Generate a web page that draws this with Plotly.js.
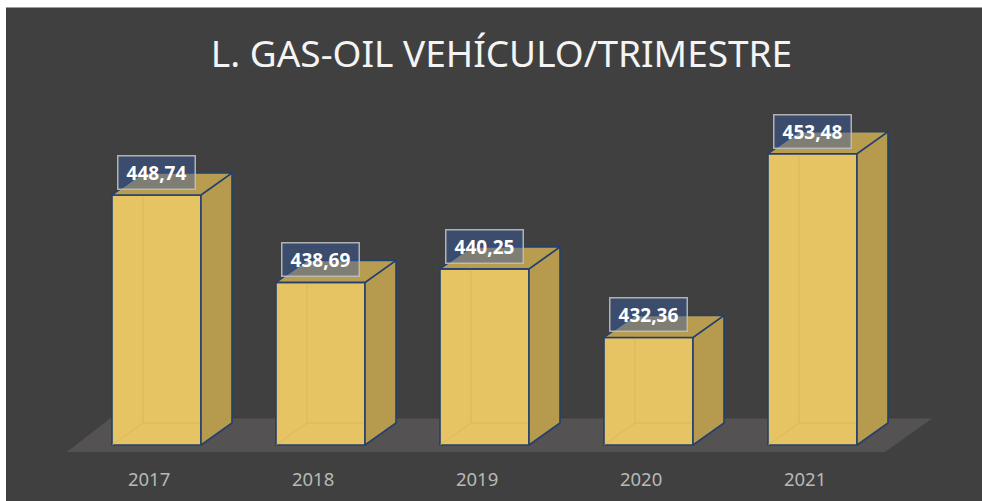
<!DOCTYPE html>
<html>
<head>
<meta charset="utf-8">
<script src="https://cdn.plot.ly/plotly-3.0.1.min.js"></script>
<style>
  html, body { margin:0; padding:0; background:#ffffff; width:982px; height:501px; overflow:hidden; }
  #chart { position:absolute; left:6px; top:7px; width:976px; height:494px; }
  #edge { position:absolute; left:6px; top:7px; width:976px; height:1px; background:#9c9c9c; z-index:5; }
</style>
</head>
<body>
<div id="chart"></div>
<div id="edge"></div>
<script>
// ---- data ----
const years = ['2017', '2018', '2019', '2020', '2021'];
const liters = [448.74, 438.69, 440.25, 432.36, 453.48];
const chartTitle = 'L. GAS-OIL VEHÍCULO/TRIMESTRE';

// ---- geometry (pixel calibration of the plot area) ----
const W = 976, H = 494, MB = 35, PH = H - MB;
const PXX = 164, X0PX = 150.5;           // px per category, px of first category centre
const xr = [-X0PX / PXX, (W - X0PX) / PXX];
const BASE = 420, BASEPX = 438, PXY = 8.7; // value axis floor, its px row, px per unit
const yr = [BASE - (PH - BASEPX) / PXY, BASE + BASEPX / PXY];
const bw = 89 / PXX, dx = 31 / PXX, dy = 22 / PXY;

const idx = years.map((_, i) => i);
const edge = '#24406e';
const fmt = v => v.toFixed(2).replace('.', ',');

const traces = [];
// front faces: real bars
traces.push({
  type: 'bar', x: idx, y: liters.map(v => v - BASE), base: BASE, width: bw,
  marker: { color: '#e6c463', line: { color: edge, width: 1.6 } },
  hoverinfo: 'skip', showlegend: false
});
// faint hidden back edges seen through the translucent bars
liters.forEach((v, i) => {
  const l = i - bw / 2, r = i + bw / 2;
  traces.push({
    type: 'scatter', mode: 'lines',
    x: [l, l + dx, l + dx, null, l + dx, r],
    y: [BASE, BASE + dy, v + dy, null, BASE + dy, BASE + dy],
    line: { color: 'rgba(210,175,80,0.55)', width: 1 },
    hoverinfo: 'skip', showlegend: false
  });
});
// side faces
liters.forEach((v, i) => {
  const r = i + bw / 2;
  traces.push({
    type: 'scatter', mode: 'lines', fill: 'toself', fillcolor: '#b69b4f',
    x: [r, r + dx, r + dx, r, r],
    y: [BASE, BASE + dy, v + dy, v, BASE],
    line: { color: edge, width: 1.6 },
    hoverinfo: 'skip', showlegend: false
  });
});
// top faces
liters.forEach((v, i) => {
  const l = i - bw / 2, r = i + bw / 2;
  traces.push({
    type: 'scatter', mode: 'lines', fill: 'toself', fillcolor: '#b89c4f',
    x: [l, l + dx, r + dx, r, l],
    y: [v, v + dy, v + dy, v, v],
    line: { color: edge, width: 1.6 },
    hoverinfo: 'skip', showlegend: false
  });
});

// floor
const n = years.length - 1;
const fy0 = BASE - 7 / PXY, fy1 = BASE + 26.5 / PXY;
const floorPath = `M ${-0.546} ${fy0} L ${-0.284} ${fy1} L ${n + 0.729} ${fy1} L ${n + 0.442} ${fy0} Z`;

const annotations = liters.map((v, i) => ({
  x: i + 0.003, y: v + 2.6, xref: 'x', yref: 'y',
  text: '<b>' + fmt(v) + '</b>', showarrow: false,
  xanchor: 'center', yanchor: 'middle',
  font: { family: 'Noto Sans, Open Sans, sans-serif', size: 19, color: '#ffffff' },
  bgcolor: 'rgba(55,90,165,0.45)', bordercolor: 'rgba(190,190,190,0.9)', borderwidth: 1.5,
  borderpad: 2, width: 72, height: 28
}));

const layout = {
  width: W, height: H,
  margin: { l: 0, r: 0, t: 0, b: MB, pad: 0 },
  paper_bgcolor: '#404040', plot_bgcolor: '#404040',
  title: {
    text: chartTitle, xref: 'container', yref: 'container',
    x: 0.5077, y: 0.905, xanchor: 'center', yanchor: 'middle',
    font: { family: 'Noto Sans, Open Sans, sans-serif', size: 37, color: '#f4f4f4' }
  },
  xaxis: {
    range: xr, showgrid: false, zeroline: false, showline: false,
    tickmode: 'array', tickvals: idx.map(i => i - 0.045), ticktext: years,
    ticks: '', tickfont: { family: 'Noto Sans, Open Sans, sans-serif', size: 18.5, color: '#b8b8b8' },
    fixedrange: true
  },
  yaxis: { range: yr, visible: false, fixedrange: true },
  shapes: [{
    type: 'path', path: floorPath, xref: 'x', yref: 'y', layer: 'below',
    fillcolor: '#545252', line: { width: 0 }
  }],
  annotations: annotations,
  showlegend: false,
  bargap: 0
};

Plotly.newPlot('chart', traces, layout, { staticPlot: true, displayModeBar: false });
</script>
</body>
</html>
